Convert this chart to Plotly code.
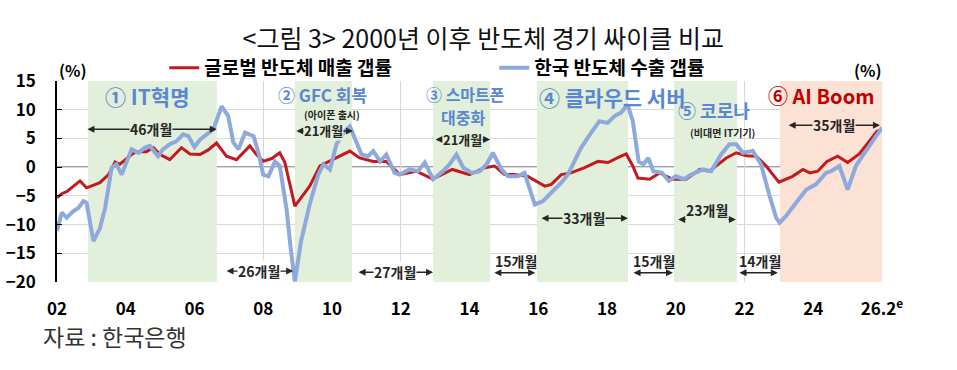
import plotly.graph_objects as go

# ---------------- data ----------------
global_x = [2002.00, 2002.15, 2002.30, 2002.50, 2002.67, 2002.86, 2003.05, 2003.25, 2003.50, 2003.69,
            2003.83, 2003.98, 2004.17, 2004.30, 2004.60, 2004.80, 2005.00, 2005.28, 2005.62, 2005.87,
            2006.16, 2006.40, 2006.64, 2006.93, 2007.22, 2007.61, 2007.80, 2008.00, 2008.25, 2008.48,
            2008.63, 2008.92, 2009.35, 2009.65, 2010.03, 2010.52, 2010.80, 2011.20, 2011.58, 2011.97,
            2012.45, 2012.93, 2013.50, 2014.00, 2014.44, 2014.73, 2015.02, 2015.30, 2015.70, 2016.19,
            2016.38, 2016.67, 2016.95, 2017.35, 2017.74, 2018.03, 2018.30, 2018.56, 2018.75, 2018.90,
            2019.24, 2019.53, 2019.90, 2020.30, 2020.70, 2020.98, 2021.47, 2021.76, 2022.05, 2022.34,
            2022.63, 2023.00, 2023.40, 2023.70, 2023.90, 2024.13, 2024.40, 2024.71, 2025.00, 2025.34,
            2025.63, 2025.85, 2026.00]
global_gap = [-5.3, -4.6, -4.2, -3.3, -2.4, -3.6, -3.2, -2.7, -1.3, 0.9,
              0.5, 1.3, 2.2, 2.7, 2.7, 3.4, 2.2, 1.3, 3.4, 2.3,
              2.2, 3.0, 4.2, 1.9, 1.3, 3.7, 2.2, 1.0, 1.5, 2.5,
              0.8, -6.8, -3.3, 0.2, 1.3, 2.8, 1.6, 1.0, 1.0, -1.3,
              -0.7, -2.1, -0.4, -1.3, -0.1, 0.2, -1.3, -1.3, -1.6, -3.3,
              -3.0, -1.3, -1.0, -0.1, 1.0, 0.8, 1.6, 2.3, 0.2, -1.9,
              -2.1, -1.0, -2.1, -2.1, -0.4, -0.7, 1.6, 2.5, 2.0, 1.9,
              0.2, -2.6, -1.6, -0.4, -1.0, -0.7, 1.0, 1.9, 0.8, 2.3,
              4.5, 6.2, 6.6]

korea_x = [2002.00, 2002.14, 2002.28, 2002.47, 2002.62, 2002.77, 2002.86, 2003.06, 2003.25, 2003.40,
           2003.59, 2003.73, 2003.88, 2004.02, 2004.17, 2004.37, 2004.56, 2004.70, 2004.94, 2005.08,
           2005.28, 2005.47, 2005.67, 2005.82, 2006.00, 2006.16, 2006.55, 2006.79, 2006.98, 2007.13,
           2007.28, 2007.47, 2007.72, 2007.86, 2008.00, 2008.15, 2008.34, 2008.48, 2008.68, 2008.80,
           2008.92, 2009.10, 2009.35, 2009.60, 2009.75, 2009.94, 2010.13, 2010.37, 2010.52, 2010.86,
           2011.05, 2011.20, 2011.40, 2011.58, 2011.82, 2011.97, 2012.26, 2012.50, 2012.70, 2012.94,
           2013.23, 2013.42, 2013.62, 2013.82, 2014.07, 2014.30, 2014.50, 2014.68, 2014.93, 2015.12,
           2015.41, 2015.60, 2015.90, 2016.14, 2016.38, 2016.67, 2016.86, 2017.06, 2017.25, 2017.54,
           2017.78, 2018.02, 2018.22, 2018.41, 2018.60, 2018.75, 2018.92, 2019.06, 2019.20, 2019.35,
           2019.60, 2019.80, 2020.00, 2020.24, 2020.45, 2020.79, 2021.03, 2021.32, 2021.56, 2021.76,
           2021.95, 2022.24, 2022.48, 2022.72, 2022.92, 2023.02, 2023.21, 2023.50, 2023.80, 2024.08,
           2024.37, 2024.52, 2024.76, 2025.00, 2025.24, 2025.43, 2025.68, 2026.00]
korea_gap = [-11.1, -7.9, -8.8, -7.7, -7.1, -5.9, -6.2, -12.9, -10.6, -7.1,
             -0.1, 0.5, -1.3, 0.8, 3.1, 2.5, 3.4, 3.7, 1.9, 3.1,
             4.0, 4.5, 5.7, 5.4, 3.5, 4.8, 6.6, 10.6, 8.9, 4.3,
             3.1, 6.0, 5.4, 2.5, -1.3, -1.6, 1.0, 0.2, -7.4, -14.3,
             -19.9, -12.9, -6.5, -1.3, 0.5, -0.4, 4.0, 6.3, 7.1, 2.2,
             1.9, 2.8, 1.0, 2.2, -1.0, -1.3, -0.4, -0.7, 0.8, -2.1,
             -0.7, 0.5, 2.2, -0.1, -1.0, -0.7, 0.5, 2.5, -0.4, -1.6,
             -1.6, -1.0, -6.5, -5.9, -4.5, -2.7, -1.3, 1.0, 3.4, 6.0,
             8.0, 7.7, 8.9, 9.5, 10.9, 8.0, 1.0, 0.5, 1.6, -0.7,
             -1.0, -2.4, -1.6, -2.1, -1.3, -0.4, -0.7, 2.2, 4.0, 4.0,
             2.5, 2.8, 0.5, -4.8, -8.8, -9.7, -8.5, -6.2, -3.9, -3.0,
             -1.0, -0.7, 0.2, -3.9, 0.2, 1.9, 4.0, 6.9]

series_names = ["글로벌 반도체 매출 갭률", "한국 반도체 수출 갭률"]

x_tick_vals = [2002, 2004, 2006, 2008, 2010, 2012, 2014, 2016, 2018, 2020, 2022, 2024, 2026]
x_tick_text = ["02", "04", "06", "08", "10", "12", "14", "16", "18", "20", "22", "24", "26.2<sup>e</sup>"]
y_tick_vals = [-20, -15, -10, -5, 0, 5, 10, 15]

# upswing phases (start, end); the last one is the AI boom
phase_start = [2002.90, 2008.92, 2012.94, 2015.96, 2019.95, 2023.03]
phase_end = [2006.65, 2010.58, 2014.60, 2018.61, 2021.78, 2026.00]

# phase durations
up_label = ["46개월", "21개월", "21개월", "33개월", "35개월"]
up_from = [2002.84, 2008.92, 2012.97, 2016.05, 2023.24]
up_to = [2006.65, 2010.61, 2014.60, 2018.61, 2025.94]
up_level = [6.6, 6.3, 4.8, -8.9, 7.3]

down_label = ["26개월", "27개월"]
down_from = [2006.89, 2010.73]
down_to = [2008.87, 2012.94]
down_level = [-18.1, -18.3]

low_label = ["15개월", "15개월", "14개월"]
low_from = [2014.68, 2018.73, 2021.81]
low_to = [2015.91, 2019.92, 2022.97]

# ---------------- figure ----------------
FONT = "Noto Sans CJK KR"
RED = "#C41A1F"
BLUE = "#8EA9DB"
LBLUE_TXT = "#5B87CF"
GREEN = "#E2EFDA"
SALMON = "#FBE2D5"
DARK = "#262626"

fig = go.Figure()
fig.add_trace(go.Scatter(x=global_x, y=global_gap, mode="lines", name=series_names[0],
                         line=dict(color=RED, width=3)))
fig.add_trace(go.Scatter(x=korea_x, y=korea_gap, mode="lines", name=series_names[1],
                         line=dict(color=BLUE, width=4)))

shapes = []
for i, (s, e) in enumerate(zip(phase_start, phase_end)):
    shapes.append(dict(type="rect", xref="x", yref="y", x0=s, x1=e, y0=-20, y1=15,
                       fillcolor=SALMON if i == 5 else GREEN, line=dict(width=0), layer="between"))
shapes.append(dict(type="line", xref="paper", yref="y", x0=0, x1=1, y0=0, y1=0,
                   line=dict(color="#404040", width=1.5), layer="between"))

ann = []
def txt(x, y, t, size, color=DARK, xref="x", yref="y", bg=None, xanchor="center"):
    d = dict(x=x, y=y, xref=xref, yref=yref, text=t, showarrow=False,
             font=dict(family=FONT, size=size, color=color), xanchor=xanchor, yanchor="middle")
    if bg:
        d["bgcolor"] = bg
        d["borderpad"] = 0
    ann.append(d)

def arrow(x0, x1, y, both=True):
    ann.append(dict(x=x1, y=y, ax=x0, ay=y, xref="x", yref="y", axref="x", ayref="y", text="",
                    showarrow=True, arrowhead=2, arrowsize=1, arrowwidth=1.4, arrowcolor=DARK,
                    arrowside="end+start" if both else "end"))

up_bg = [GREEN, GREEN, GREEN, GREEN, SALMON]
up_size = [14, 13, 13, 14, 14]
for lab, a, b, lv, bg, sz in zip(up_label, up_from, up_to, up_level, up_bg, up_size):
    arrow(a, b, lv)
    txt((a + b) / 2, lv, "<b>" + lab + "</b>", sz, bg=bg)
for lab, a, b, lv in zip(down_label, down_from, down_to, down_level):
    arrow(a, b, lv)
    txt((a + b) / 2, lv, "<b>" + lab + "</b>", 14, bg="white")
txt(2020.90, -7.4, "<b>23개월</b>", 14)
arrow(2020.33, 2020.07, -9.1, both=False)
arrow(2021.49, 2021.75, -9.1, both=False)
for lab, a, b in zip(low_label, low_from, low_to):
    arrow(a, b, -18.4)
    txt((a + b) / 2 + 0.05, -16.4, "<b>" + lab + "</b>", 14)

# phase titles
txt(2004.63, 12.4, "<b>① IT혁명</b>", 21, LBLUE_TXT)
txt(2009.71, 12.65, "<b>② GFC 회복</b>", 17, LBLUE_TXT)
txt(2010.00, 9.2, "<b>(아이폰 출시)</b>", 10, DARK)
txt(2013.88, 12.75, "<b>③ 스마트폰</b>", 16, LBLUE_TXT)
txt(2013.80, 8.66, "<b>대중화</b>", 16, LBLUE_TXT)
txt(2018.15, 12.3, "<b>④ 클라우드 서버</b>", 21, LBLUE_TXT)
txt(2021.11, 9.9, "<b>⑤ 코로나</b>", 18, LBLUE_TXT)
txt(2021.35, 6.0, "<b>(비대면 IT기기)</b>", 10, DARK)
txt(2024.23, 12.5, "<b>⑥ AI Boom</b>", 20, "#C00000")

# units and source
txt(0.019, 1.055, "<b>(%)</b>", 16, "black", xref="paper", yref="paper")
txt(0.983, 1.055, "<b>(%)</b>", 16, "black", xref="paper", yref="paper")
txt(-0.02, -0.269, "자료 : 한국은행", 23, "#333333", xref="paper", yref="paper", xanchor="left")

tickfont = dict(family=FONT, size=17, color="black", weight="bold")
fig.update_layout(
    width=957, height=370,
    margin=dict(l=57, r=75, t=81, b=88, autoexpand=False),
    plot_bgcolor="white", paper_bgcolor="white",
    title=dict(text="<그림 3> 2000년 이후 반도체 경기 싸이클 비교", x=0.505, xanchor="center",
               y=1 - 39 / 370, yanchor="middle", font=dict(family=FONT, size=25, color="#111111")),
    showlegend=True,
    legend=dict(orientation="h", x=0.13, xanchor="left", y=1.065, yanchor="middle",
                font=dict(family=FONT, size=19, color="black", weight="bold"),
                itemwidth=30, entrywidth=285, bgcolor="rgba(0,0,0,0)", traceorder="normal"),
    xaxis=dict(range=[2002, 2026], tickvals=x_tick_vals, ticktext=x_tick_text, tickfont=tickfont,
               showgrid=True, gridcolor="#D9D9D9", gridwidth=1, zeroline=False, showline=False,
               ticks="", ticklabelstandoff=15, automargin=False),
    yaxis=dict(range=[-20, 15], tickvals=y_tick_vals, tickfont=tickfont, showgrid=True,
               gridcolor="#D9D9D9", gridwidth=1, zeroline=False, showline=True, linecolor="black",
               linewidth=1.5, ticks="inside", ticklen=5, tickcolor="black", ticklabelstandoff=16,
               automargin=False),
    yaxis2=dict(range=[-20, 15], tickvals=y_tick_vals, tickfont=tickfont, overlaying="y", side="right",
                anchor="x", showgrid=False, zeroline=False, showline=True, linecolor="black",
                linewidth=1.5, ticks="inside", ticklen=5, tickcolor="black", ticklabelstandoff=12,
                automargin=False),
    shapes=shapes,
    annotations=ann,
)

fig.write_html("out.html", config={"displayModeBar": False},
               post_script="document.body.style.margin='0';document.body.style.padding='0';")
